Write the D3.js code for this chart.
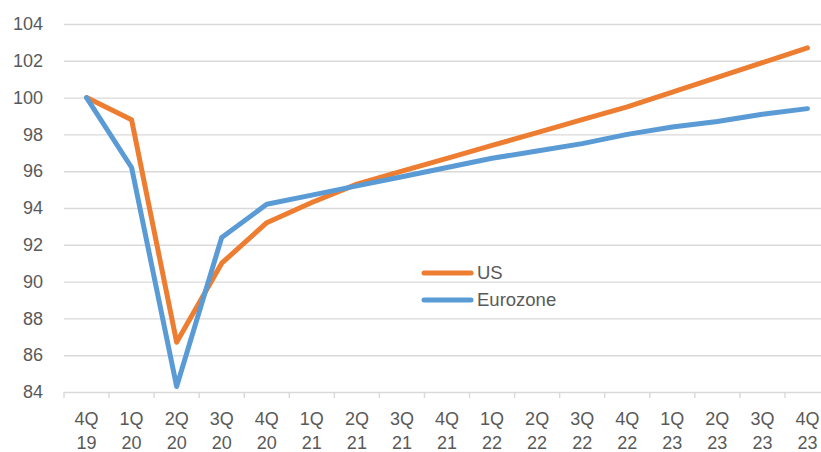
<!DOCTYPE html>
<html>
<head>
<meta charset="utf-8">
<script src="https://cdn.jsdelivr.net/npm/d3@7/dist/d3.min.js"></script>
<style>
  html, body { margin: 0; padding: 0; background: #fff; }
  svg { display: block; }
  text { font-family: "Liberation Sans", Arial, sans-serif; fill: #595959; }
</style>
</head>
<body>
<svg id="chart" width="821" height="452"></svg>
<script>
// Quarters (two-line labels: quarter / year)
const quarters = ["4Q", "1Q", "2Q", "3Q", "4Q", "1Q", "2Q", "3Q", "4Q", "1Q", "2Q", "3Q", "4Q", "1Q", "2Q", "3Q", "4Q"];
const years    = ["19", "20", "20", "20", "20", "21", "21", "21", "21", "22", "22", "22", "22", "23", "23", "23", "23"];

// Real GDP index, 4Q19 = 100
const usValues = [100, 98.8, 86.7, 91.0, 93.2, 94.3, 95.3, 96.0, 96.7, 97.4, 98.1, 98.8, 99.5, 100.3, 101.1, 101.9, 102.7];
const ezValues = [100, 96.2, 84.3, 92.4, 94.2, 94.7, 95.2, 95.7, 96.2, 96.7, 97.1, 97.5, 98.0, 98.4, 98.7, 99.1, 99.4];

const yTicks = [84, 86, 88, 90, 92, 94, 96, 98, 100, 102, 104];

const seriesNames = ["US", "Eurozone"];
const seriesColors = ["#ED7D31", "#5B9BD5"];

const categories = quarters.map((q, i) => q + " " + years[i]);
const series = [
  { name: seriesNames[0], color: seriesColors[0], values: usValues },
  { name: seriesNames[1], color: seriesColors[1], values: ezValues }
];

const svg = d3.select("#chart");
const plotLeft = 64, plotRight = 830, plotTop = 24, plotBottom = 392;

const x = d3.scaleBand().domain(categories).range([plotLeft, plotRight]).paddingInner(0).paddingOuter(0);
const y = d3.scaleLinear().domain([84, 104]).range([plotBottom, plotTop]);

// Horizontal gridlines + value labels
const yAxis = svg.append("g")
  .attr("transform", `translate(${plotLeft},0)`)
  .call(d3.axisLeft(y).tickValues(yTicks).tickSize(-(plotRight - plotLeft)).tickPadding(21).tickFormat(d3.format("d")));
yAxis.select(".domain").remove();
yAxis.selectAll(".tick line").attr("stroke", "#d9d9d9").attr("stroke-width", 1.4);
yAxis.selectAll(".tick text").style("font-size", "18px").attr("fill", "#595959");

// Category axis: tick marks at category boundaries
const boundaries = d3.range(categories.length + 1).map(i => plotLeft + i * x.step());
svg.append("g").selectAll("line")
  .data(boundaries)
  .join("line")
  .attr("x1", d => d).attr("x2", d => d)
  .attr("y1", plotBottom).attr("y2", plotBottom + 6)
  .attr("stroke", "#d9d9d9").attr("stroke-width", 1.4);

// Category labels
const xAxis = svg.append("g")
  .attr("transform", `translate(0,${plotBottom})`)
  .call(d3.axisBottom(x).tickSize(0).tickFormat(() => ""));
xAxis.select(".domain").remove();
xAxis.selectAll(".tick").each(function(d, i) {
  const t = d3.select(this).append("text")
    .attr("text-anchor", "middle")
    .attr("fill", "#595959")
    .style("font-size", "18px");
  t.append("tspan").attr("x", 0).attr("y", 33).text(quarters[i]);
  t.append("tspan").attr("x", 0).attr("y", 57).text(years[i]);
});

// Series lines
const line = d3.line()
  .x((d, i) => x(categories[i]) + x.bandwidth() / 2)
  .y(d => y(d));

svg.append("g").selectAll("path")
  .data(series)
  .join("path")
  .attr("d", s => line(s.values))
  .attr("fill", "none")
  .attr("stroke", s => s.color)
  .attr("stroke-width", 5)
  .attr("stroke-linejoin", "round")
  .attr("stroke-linecap", "round");

// Legend
const legend = svg.append("g").attr("transform", "translate(424,273)");
const item = legend.selectAll("g")
  .data(series)
  .join("g")
  .attr("transform", (d, i) => `translate(0,${i * 27})`);
item.append("line")
  .attr("x1", 0).attr("x2", 47).attr("y1", 0).attr("y2", 0)
  .attr("stroke", d => d.color).attr("stroke-width", 5).attr("stroke-linecap", "round");
item.append("text")
  .attr("x", 53).attr("y", 0).attr("dy", "0.35em")
  .style("font-size", "18.5px")
  .attr("fill", "#595959")
  .text(d => d.name);
</script>
</body>
</html>
